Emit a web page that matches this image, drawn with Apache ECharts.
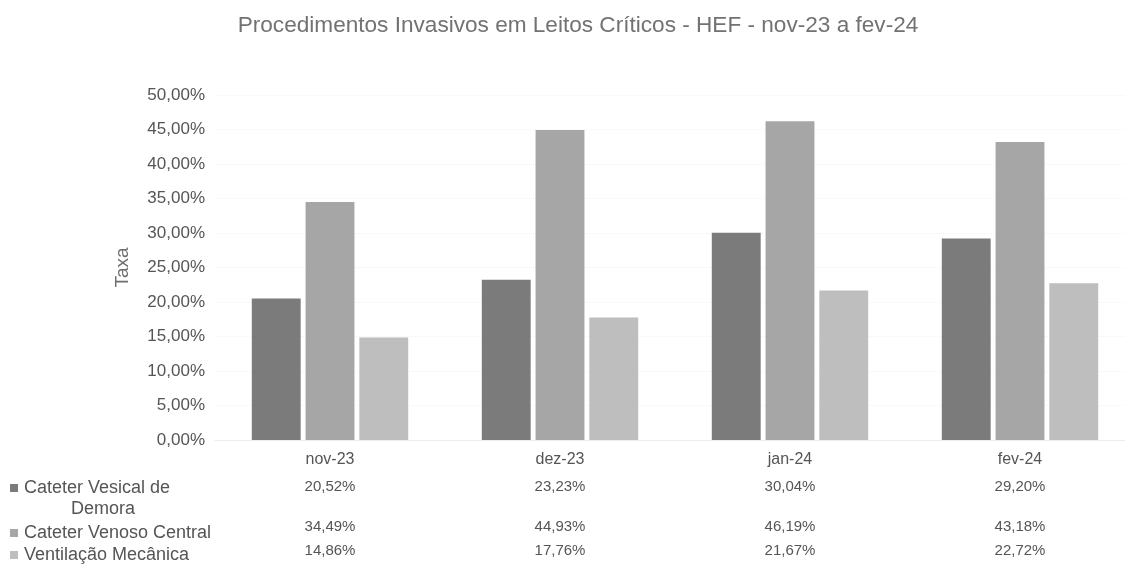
<!DOCTYPE html>
<html>
<head>
<meta charset="utf-8">
<script src="https://cdn.jsdelivr.net/npm/echarts@6/dist/echarts.min.js"></script>
<style>
  html, body { margin: 0; padding: 0; background: #ffffff; overflow: hidden; }
  #chart { width: 1135px; height: 572px; }
</style>
</head>
<body>
<div id="chart"></div>
<script>
// Monthly rates of invasive procedures in critical-care beds
const months = ['nov-23', 'dez-23', 'jan-24', 'fev-24'];
const seriesNames = ['Cateter Vesical de Demora', 'Cateter Venoso Central', 'Ventilação Mecânica'];
const vesical = [20.52, 23.23, 30.04, 29.20];
const venoso = [34.49, 44.93, 46.19, 43.18];
const ventilacao = [14.86, 17.76, 21.67, 22.72];
const yTicks = [0, 5, 10, 15, 20, 25, 30, 35, 40, 45, 50];

const colors = ['#7b7b7b', '#a6a6a6', '#bebebe'];
const seriesData = [vesical, venoso, ventilacao];
const FONT = '"Liberation Sans", Arial, sans-serif';
const TEXT = '#555555';

function pct(v) {
  return v.toFixed(2).replace('.', ',') + '%';
}

const chart = echarts.init(document.getElementById('chart'), null, { renderer: 'canvas' });

// Data-table rows drawn as extra category axes sharing the grid
const rowOffsets = [27, 67, 91];
const tableAxes = seriesData.map((vals, k) => ({
  type: 'category',
  gridIndex: 0,
  position: 'bottom',
  offset: rowOffsets[k],
  data: months,
  axisLine: { show: false },
  axisTick: { show: false },
  splitLine: { show: false },
  axisLabel: {
    margin: 12,
    color: TEXT,
    fontFamily: FONT,
    fontSize: 15,
    formatter: (val, idx) => pct(vals[idx])
  }
}));

const option = {
  animation: false,
  backgroundColor: '#ffffff',
  title: {
    text: 'Procedimentos Invasivos em Leitos Críticos - HEF - nov-23 a fev-24',
    left: 573,
    top: 9,
    textAlign: 'center',
    textStyle: { color: '#727272', fontFamily: FONT, fontSize: 22.6, fontWeight: 'normal' }
  },
  grid: { left: 215, right: 0, top: 95, bottom: 132, containLabel: false },
  xAxis: [{
    type: 'category',
    data: months,
    position: 'bottom',
    axisLine: { show: true, lineStyle: { color: '#ececec' } },
    axisTick: { show: false },
    splitLine: { show: false },
    axisLabel: { margin: 12, color: TEXT, fontFamily: FONT, fontSize: 16 }
  }].concat(tableAxes),
  yAxis: {
    type: 'value',
    min: yTicks[0],
    max: yTicks[yTicks.length - 1],
    interval: yTicks[1] - yTicks[0],
    name: 'Taxa',
    nameLocation: 'middle',
    nameGap: 83,
    nameRotate: 90,
    nameTextStyle: { color: '#6e6e6e', fontFamily: FONT, fontSize: 19 },
    axisLine: { show: false },
    axisTick: { show: false },
    splitLine: { show: true, lineStyle: { color: '#f3f3f3', type: 'dotted' } },
    axisLabel: {
      margin: 10,
      color: TEXT,
      fontFamily: FONT,
      fontSize: 17,
      formatter: v => pct(v)
    }
  },
  series: seriesData.map((vals, k) => ({
    name: seriesNames[k],
    type: 'bar',
    xAxisIndex: 0,
    data: vals,
    barGap: '10%',
    barCategoryGap: '32%',
    itemStyle: { color: colors[k] }
  }))
};

chart.setOption(option);

// Row headers of the data table with their colour keys
const rowLabelY = [488, 533, 555];
const LABEL_FONT = '18px ' + FONT;
const graphics = [];
seriesData.forEach((vals, k) => {
  graphics.push({
    type: 'rect',
    shape: { x: 10, y: rowLabelY[k] - 4, width: 8, height: 8 },
    style: { fill: colors[k] }
  });
});
graphics.push({
  type: 'text', x: 24, y: rowLabelY[0],
  style: { text: 'Cateter Vesical de', fill: TEXT, font: LABEL_FONT, verticalAlign: 'middle' }
});
graphics.push({
  type: 'text', x: 103, y: 509,
  style: { text: 'Demora', fill: TEXT, font: LABEL_FONT, align: 'center', verticalAlign: 'middle' }
});
graphics.push({
  type: 'text', x: 24, y: rowLabelY[1],
  style: { text: seriesNames[1], fill: TEXT, font: LABEL_FONT, verticalAlign: 'middle' }
});
graphics.push({
  type: 'text', x: 24, y: rowLabelY[2],
  style: { text: seriesNames[2], fill: TEXT, font: LABEL_FONT, verticalAlign: 'middle' }
});
chart.setOption({ graphic: graphics });
</script>
</body>
</html>
